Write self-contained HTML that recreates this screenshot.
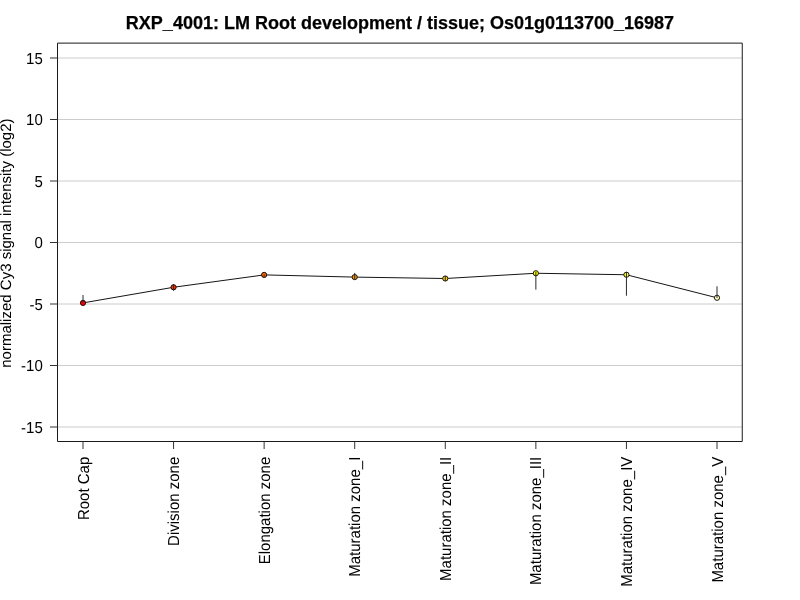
<!DOCTYPE html>
<html><head><meta charset="utf-8"><style>
html,body{margin:0;padding:0;background:#fff;width:800px;height:600px;overflow:hidden}
svg{display:block;will-change:transform}
.ax{text-rendering:geometricPrecision;font-family:"Liberation Sans",sans-serif;font-size:15px;fill:#000}
.tt{font-family:"Liberation Sans",sans-serif;font-size:18px;font-weight:bold;fill:#000;stroke:#000;stroke-width:0.25px}
</style></head><body>
<svg width="800" height="600" viewBox="0 0 800 600">
<line x1="57.5" y1="58.00" x2="742" y2="58.00" stroke="#cccccc" stroke-width="1"/>
<line x1="57.5" y1="119.50" x2="742" y2="119.50" stroke="#cccccc" stroke-width="1"/>
<line x1="57.5" y1="181.00" x2="742" y2="181.00" stroke="#cccccc" stroke-width="1"/>
<line x1="57.5" y1="242.50" x2="742" y2="242.50" stroke="#cccccc" stroke-width="1"/>
<line x1="57.5" y1="304.00" x2="742" y2="304.00" stroke="#cccccc" stroke-width="1"/>
<line x1="57.5" y1="365.50" x2="742" y2="365.50" stroke="#cccccc" stroke-width="1"/>
<line x1="57.5" y1="427.00" x2="742" y2="427.00" stroke="#cccccc" stroke-width="1"/>
<path d="M57.5,43.12 L742.26,43.12 L742.26,441.5 L57.5,441.5 Z" fill="none" stroke="#1a1a1a" stroke-width="1"/>
<line x1="50" y1="58.00" x2="57.5" y2="58.00" stroke="#333333" stroke-width="1"/>
<text transform="translate(42.8,63.90) scale(1,1.06)" text-anchor="end" class="ax">15</text>
<line x1="50" y1="119.50" x2="57.5" y2="119.50" stroke="#333333" stroke-width="1"/>
<text transform="translate(42.8,125.40) scale(1,1.06)" text-anchor="end" class="ax">10</text>
<line x1="50" y1="181.00" x2="57.5" y2="181.00" stroke="#333333" stroke-width="1"/>
<text transform="translate(42.8,186.90) scale(1,1.06)" text-anchor="end" class="ax">5</text>
<line x1="50" y1="242.50" x2="57.5" y2="242.50" stroke="#333333" stroke-width="1"/>
<text transform="translate(42.8,248.40) scale(1,1.06)" text-anchor="end" class="ax">0</text>
<line x1="50" y1="304.00" x2="57.5" y2="304.00" stroke="#333333" stroke-width="1"/>
<text transform="translate(42.8,309.90) scale(1,1.06)" text-anchor="end" class="ax">-5</text>
<line x1="50" y1="365.50" x2="57.5" y2="365.50" stroke="#333333" stroke-width="1"/>
<text transform="translate(42.8,371.40) scale(1,1.06)" text-anchor="end" class="ax">-10</text>
<line x1="50" y1="427.00" x2="57.5" y2="427.00" stroke="#333333" stroke-width="1"/>
<text transform="translate(42.8,432.90) scale(1,1.06)" text-anchor="end" class="ax">-15</text>
<line x1="83.00" y1="441.5" x2="83.00" y2="449" stroke="#333333" stroke-width="1"/>
<text transform="translate(88.50,456.7) rotate(-90) scale(1,1.06)" text-anchor="end" class="ax">Root Cap</text>
<line x1="173.57" y1="441.5" x2="173.57" y2="449" stroke="#333333" stroke-width="1"/>
<text transform="translate(179.07,456.7) rotate(-90) scale(1,1.06)" text-anchor="end" class="ax">Division zone</text>
<line x1="264.14" y1="441.5" x2="264.14" y2="449" stroke="#333333" stroke-width="1"/>
<text transform="translate(269.64,456.7) rotate(-90) scale(1,1.06)" text-anchor="end" class="ax">Elongation zone</text>
<line x1="354.71" y1="441.5" x2="354.71" y2="449" stroke="#333333" stroke-width="1"/>
<text transform="translate(360.21,456.7) rotate(-90) scale(1,1.06)" text-anchor="end" class="ax">Maturation zone_I</text>
<line x1="445.29" y1="441.5" x2="445.29" y2="449" stroke="#333333" stroke-width="1"/>
<text transform="translate(450.79,456.7) rotate(-90) scale(1,1.06)" text-anchor="end" class="ax">Maturation zone_II</text>
<line x1="535.86" y1="441.5" x2="535.86" y2="449" stroke="#333333" stroke-width="1"/>
<text transform="translate(541.36,456.7) rotate(-90) scale(1,1.06)" text-anchor="end" class="ax">Maturation zone_III</text>
<line x1="626.43" y1="441.5" x2="626.43" y2="449" stroke="#333333" stroke-width="1"/>
<text transform="translate(631.93,456.7) rotate(-90) scale(1,1.06)" text-anchor="end" class="ax">Maturation zone_IV</text>
<line x1="717.00" y1="441.5" x2="717.00" y2="449" stroke="#333333" stroke-width="1"/>
<text transform="translate(722.50,456.7) rotate(-90) scale(1,1.06)" text-anchor="end" class="ax">Maturation zone_V</text>
<path d="M83.00,302.9 L173.57,287.25 L264.14,274.9 L354.71,277.1 L445.29,278.5 L535.86,273.25 L626.43,274.75 L717.00,297.8" fill="none" stroke="#151515" stroke-width="1"/>
<circle cx="83.00" cy="302.9" r="2.6" fill="#FF0000" stroke="#000" stroke-width="0.9"/>
<circle cx="173.57" cy="287.25" r="2.6" fill="#FF3300" stroke="#000" stroke-width="0.9"/>
<circle cx="264.14" cy="274.9" r="2.6" fill="#FF6600" stroke="#000" stroke-width="0.9"/>
<circle cx="354.71" cy="277.1" r="2.6" fill="#FF9900" stroke="#000" stroke-width="0.9"/>
<circle cx="445.29" cy="278.5" r="2.6" fill="#FFCC00" stroke="#000" stroke-width="0.9"/>
<circle cx="535.86" cy="273.25" r="2.6" fill="#FFFF00" stroke="#000" stroke-width="0.9"/>
<circle cx="626.43" cy="274.75" r="2.6" fill="#FFFF40" stroke="#000" stroke-width="0.9"/>
<circle cx="717.00" cy="297.8" r="2.6" fill="#FFFFBF" stroke="#000" stroke-width="0.9"/>
<line x1="83.00" y1="295.0" x2="83.00" y2="303.0" stroke="#2a2a2a" stroke-width="1"/>
<line x1="173.57" y1="284.0" x2="173.57" y2="290.75" stroke="#2a2a2a" stroke-width="1"/>
<line x1="264.14" y1="274.25" x2="264.14" y2="276.75" stroke="#2a2a2a" stroke-width="1"/>
<line x1="354.71" y1="272.9" x2="354.71" y2="279.0" stroke="#2a2a2a" stroke-width="1"/>
<line x1="445.29" y1="276.0" x2="445.29" y2="281.0" stroke="#2a2a2a" stroke-width="1"/>
<line x1="535.86" y1="271.75" x2="535.86" y2="289.6" stroke="#2a2a2a" stroke-width="1"/>
<line x1="626.43" y1="272.0" x2="626.43" y2="295.75" stroke="#2a2a2a" stroke-width="1"/>
<line x1="717.00" y1="286.3" x2="717.00" y2="298.0" stroke="#2a2a2a" stroke-width="1"/>
<text x="400" y="28.6" text-anchor="middle" class="tt">RXP_4001: LM Root development / tissue; Os01g0113700_16987</text>
<text transform="translate(11.1,243.1) rotate(-90)" text-anchor="middle" class="ax">normalized Cy3 signal intensity (log2)</text>
</svg></body></html>
